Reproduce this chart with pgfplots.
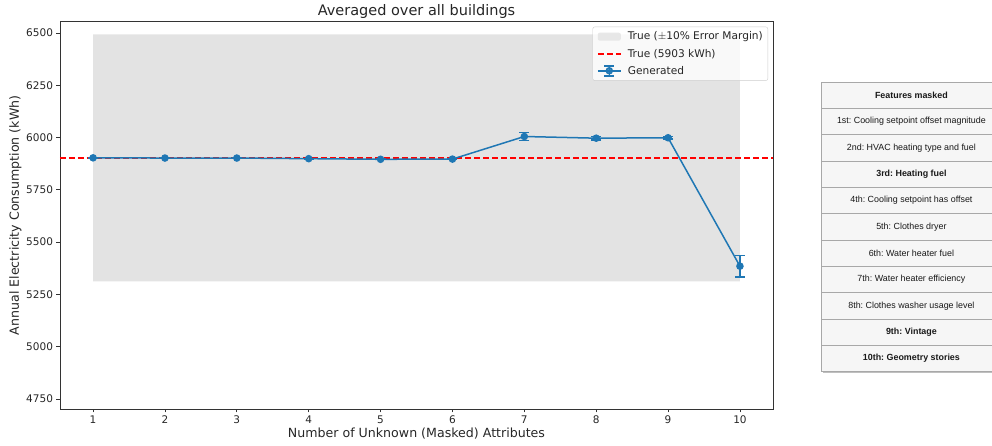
\documentclass[border=0pt]{standalone}
\usepackage{pgfplots}
\pgfplotsset{compat=1.18}
\usepackage{fontspec}
\setmainfont{DejaVu Sans}
\newfontfamily\tablefont{Liberation Sans}
\definecolor{mplblue}{HTML}{1F77B4}
\definecolor{bandgray}{HTML}{E3E3E3}
\definecolor{cellgray}{HTML}{F6F6F6}
\definecolor{linegray}{HTML}{A8A8A8}
\frenchspacing
\begin{document}
\begin{tikzpicture}
\begin{axis}[
  name=ax, scale only axis,
  width=713pt, height=387.3pt,
  xmin=0.54, xmax=10.46, ymin=4702, ymax=6554,
  xtick={1,2,3,4,5,6,7,8,9,10},
  ytick={4750,5000,5250,5500,5750,6000,6250,6500},
  tick align=outside, tick pos=left, major tick length=3.5pt,
  every tick/.style={black!80, line width=0.8pt},
  tick label style={font=\fontsize{10.5}{12}\selectfont, text=black!85},
  /pgf/number format/assume math mode=true,
  /pgf/number format/1000 sep={},
  axis line style={black!80, line width=0.8pt},
  xlabel={Number of Unknown (Masked) Attributes},
  ylabel={Annual Electricity Consumption (kWh)},
  label style={font=\fontsize{12.6}{14}\selectfont, text=black!85},
  xlabel style={yshift=3pt},
  ylabel style={yshift=-2pt},
  title={Averaged over all buildings},
  title style={font=\fontsize{14.5}{16}\selectfont, text=black!85, yshift=-6pt},
  legend style={at={(1,1)}, anchor=north east, xshift=-5pt, yshift=-5pt,
    draw=black!20, rounded corners=2pt, fill=white, fill opacity=0.8, text opacity=1,
    font=\fontsize{10.6}{12}\selectfont, text=black!85, row sep=5.5pt, inner sep=4pt,
    nodes={inner sep=1pt}},
  legend cell align=left,
]
\addplot[fill=bandgray, draw=none,
  legend image code/.code={
    \fill[bandgray] (0pt,-4pt) rectangle (23pt,4pt);
  }] coordinates {(1,5312.7) (10,5312.7) (10,6493.3) (1,6493.3) (1,5312.7)};
\addlegendentry{\hspace{5pt}True ($\pm$10\% Error Margin)}
\addplot[red, line width=2pt, dash pattern=on 6pt off 3pt,
  legend image code/.code={
    \draw[red, line width=2pt, dash pattern=on 6pt off 3pt] (0pt,0pt) -- (23pt,0pt);
  }] coordinates {(0.54,5903) (10.46,5903)};
\addlegendentry{\hspace{5pt}True (5903 kWh)}
\addplot[mplblue, line width=1.5pt, mark=*, mark size=3pt,
  legend image code/.code={
    \draw[mplblue, line width=1.5pt] (0pt,0pt) -- (23pt,0pt);
    \draw[mplblue, line width=1.5pt] (11.5pt,-5pt) -- (11.5pt,5pt);
    \draw[mplblue, line width=1.5pt] (6.5pt,5pt) -- (16.5pt,5pt);
    \draw[mplblue, line width=1.5pt] (6.5pt,-5pt) -- (16.5pt,-5pt);
    \fill[mplblue] (11.5pt,0pt) circle (3pt);
  },
  error bars/.cd, y dir=both, y explicit,
  error bar style={line width=1.5pt, mplblue},
  error mark options={mplblue, line width=1.5pt, mark size=5pt, rotate=90}]
  coordinates {
  (1,5903) +- (0,2)
  (2,5902) +- (0,2)
  (3,5902) +- (0,2)
  (4,5899) +- (0,2)
  (5,5896) +- (0,2)
  (6,5897) +- (0,2)
  (7,6005) +- (0,18)
  (8,5997) +- (0,8)
  (9,5999) +- (0,5)
  (10,5385) +- (0,52)
};
\addlegendentry{\hspace{5pt}Generated}
\end{axis}
\pgfresetboundingbox
\begin{scope}[shift={([shift={(-60pt,-37pt)}]ax.south west)}, x=1pt, y=1pt]
\path[use as bounding box] (0,0) rectangle (992,446);
% table of masked features
\fill[black!25] (822.7,73) rectangle (1002,362);
\fill[cellgray] (821.7,74.3) rectangle (1001,364);
\foreach \i in {0,...,11}{
  \draw[linegray, line width=0.8pt] (821.7,364-\i*26.34) -- (1001,364-\i*26.34);
}
\draw[linegray, line width=0.8pt] (821.7,74.3) -- (821.7,364);
\begin{scope}[every node/.style={text=black!90, font=\tablefont\fontsize{8.9}{10}\selectfont, anchor=center}]
\node at (911.4,364-0.5*26.34) {\bfseries Features masked};
\node at (911.4,364-1.5*26.34) {1st: Cooling setpoint offset magnitude};
\node at (911.4,364-2.5*26.34) {2nd: HVAC heating type and fuel};
\node at (911.4,364-3.5*26.34) {\bfseries 3rd: Heating fuel};
\node at (911.4,364-4.5*26.34) {4th: Cooling setpoint has offset};
\node at (911.4,364-5.5*26.34) {5th: Clothes dryer};
\node at (911.4,364-6.5*26.34) {6th: Water heater fuel};
\node at (911.4,364-7.5*26.34) {7th: Water heater efficiency};
\node at (911.4,364-8.5*26.34) {8th: Clothes washer usage level};
\node at (911.4,364-9.5*26.34) {\bfseries 9th: Vintage};
\node at (911.4,364-10.5*26.34) {\bfseries 10th: Geometry stories};
\end{scope}
\end{scope}
\end{tikzpicture}
\end{document}
